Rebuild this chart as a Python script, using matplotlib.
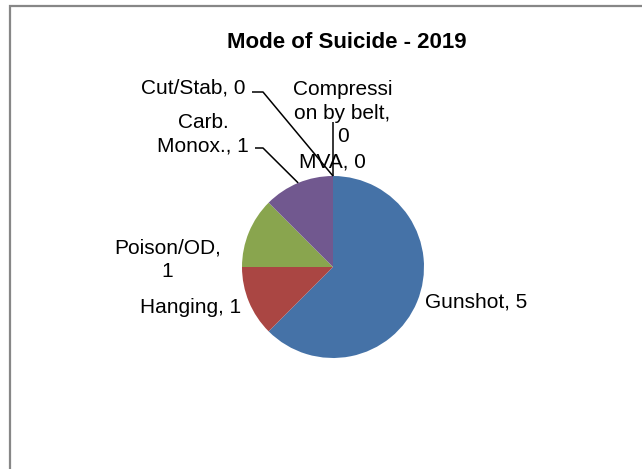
import matplotlib.pyplot as plt
from matplotlib.patches import Rectangle
import numpy as np

plt.rcParams['font.family'] = ['Liberation Sans', 'DejaVu Sans']

# chart data
title = 'Mode of Suicide - 2019'
categories = ['Gunshot', 'Hanging', 'Poison/OD', 'Carb. Monox.',
              'Cut/Stab', 'Compression by belt', 'MVA']
counts = [5, 1, 1, 1, 0, 0, 0]
colors = ['#4572A7', '#AA4643', '#89A54E', '#71588F',
          '#4198AF', '#DB843D', '#93A9CF']

# how each label wraps inside its box
display_names = ['Gunshot', 'Hanging', 'Poison/OD', 'Carb.\nMonox.',
                 'Cut/Stab', 'Compressi\non by belt', 'MVA']
value_on_new_line = [False, False, True, False, False, True, False]

W, H = 642, 469

# label anchors (pixel coords, y down): centre x, last-line baseline
label_pos = [(476, 308), (191, 313), (167.5, 277), (203, 151),
             (193.5, 93), (342.5, 142), (332.5, 167)]
# elbow points of the leader lines, the last point goes to the wedge edge
leaders = {3: [(255, 148), (263, 148)],
           4: [(252, 92), (263, 92)],
           5: [(333, 122)]}

pie_center = (333, 267)
pie_radius = 91


def px(x, y):
    return x, H - y


fig = plt.figure(figsize=(W / 100, H / 100), dpi=100)
ax = fig.add_axes([0, 0, 1, 1])

wedges, _ = ax.pie(counts, colors=colors, startangle=90, counterclock=False,
                   center=px(*pie_center), radius=pie_radius,
                   wedgeprops=dict(linewidth=0))
ax.set_xlim(0, W)
ax.set_ylim(0, H)
ax.set_aspect('equal')
ax.axis('off')

# chart area border (runs off the right and bottom edges)
ax.add_patch(Rectangle((10, -20), W + 20, H - 5.5 + 20, fill=False,
                       ec='#878787', lw=1.6, clip_on=False))

ax.text(*px(347, 48), title, ha='center', va='baseline',
        fontsize=16, fontweight='bold')

cx, cy = px(*pie_center)
for i, (name, val) in enumerate(zip(display_names, counts)):
    sep = ',\n' if value_on_new_line[i] else ', '
    x, y = px(*label_pos[i])
    ax.text(x, y, f'{name}{sep}{val}', ha='center', va='baseline',
            multialignment='center', fontsize=15, linespacing=1.3)
    if i in leaders:
        w = wedges[i]
        mid = np.deg2rad((w.theta1 + w.theta2) / 2)
        end = (cx + pie_radius * np.cos(mid), cy + pie_radius * np.sin(mid))
        pts = [px(*p) for p in leaders[i]] + [end]
        xs, ys = zip(*pts)
        ax.plot(xs, ys, color='black', lw=1.1, solid_capstyle='butt')

fig.savefig('out.png', dpi=100)
